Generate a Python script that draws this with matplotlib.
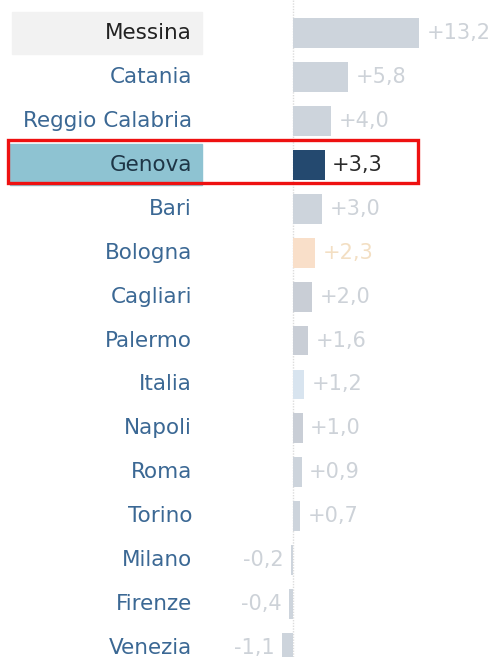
import matplotlib
matplotlib.use("Agg")
import matplotlib.pyplot as plt
from matplotlib.patches import Rectangle
import matplotlib.transforms as mtransforms

cities = ["Messina", "Catania", "Reggio Calabria", "Genova", "Bari", "Bologna",
          "Cagliari", "Palermo", "Italia", "Napoli", "Roma", "Torino",
          "Milano", "Firenze", "Venezia"]
values = [13.2, 5.8, 4.0, 3.3, 3.0, 2.3, 2.0, 1.6, 1.2, 1.0, 0.9, 0.7, -0.2, -0.4, -1.1]
labels = ["+13,2", "+5,8", "+4,0", "+3,3", "+3,0", "+2,3", "+2,0", "+1,6", "+1,2",
          "+1,0", "+0,9", "+0,7", "-0,2", "-0,4", "-1,1"]

bar_colors = {"Genova": "#24496f", "Bologna": "#f9dfc9", "Italia": "#d8e4ef",
              "Cagliari": "#c9ced6", "Palermo": "#c9ced6", "Napoli": "#c9ced6"}
default_bar = "#cdd4dc"
value_colors = {"Genova": "#2b2b2b", "Bologna": "#f3dfc3"}
default_value = "#cdd2d8"
name_colors = {"Messina": "#222222", "Genova": "#1e3546"}
default_name = "#3b6894"

plt.rcParams['font.family'] = ['DejaVu Sans']

W, H = 492, 657
fig = plt.figure(figsize=(W / 100, H / 100), dpi=100)
ax = fig.add_axes([0, 0, 1, 1])
ax.axis("off")

zero_px = 293
ppu = 9.55
ax.set_xlim(-zero_px / ppu, (W - zero_px) / ppu)
y0, dy = 33, 43.93
ax.set_ylim((H - y0) / dy, -y0 / dy)

ys = list(range(len(cities)))
colors = [bar_colors.get(c, default_bar) for c in cities]
ax.barh(ys, values, height=0.68, color=colors, zorder=2)

ax.axvline(0, color="#dcdcdc", lw=1.0, ls=(0, (1, 1)), zorder=1)

blend = mtransforms.blended_transform_factory(ax.transAxes, ax.transData)

# row highlights
ax.add_patch(Rectangle((12 / W, -0.48), (202 - 12) / W, 0.96, transform=blend,
                       color="#f2f2f2", zorder=0))
gi = cities.index("Genova")
ax.add_patch(Rectangle((10 / W, gi - 0.48), (202 - 10) / W, 0.93, transform=blend,
                       color="#8ec3d2", zorder=0))

for i, (c, v, l) in enumerate(zip(cities, values, labels)):
    ax.text(192 / W, i, c, transform=blend, ha="right", va="center",
            fontsize=15.5, color=name_colors.get(c, default_name), zorder=3)
    if v >= 0:
        ax.text(v + 0.8, i, l, ha="left", va="center", fontsize=15,
                color=value_colors.get(c, default_value), zorder=3)
    else:
        ax.text(v - 0.8, i, l, ha="right", va="center", fontsize=15,
                color=value_colors.get(c, default_value), zorder=3)

# red outline around Genova
ax.add_patch(Rectangle((8 / W, gi - 0.56), (418 - 8) / W, 0.98, transform=blend,
                       fill=False, edgecolor="#ee1111", lw=2.4, zorder=4))

fig.savefig("out.png", dpi=100)
